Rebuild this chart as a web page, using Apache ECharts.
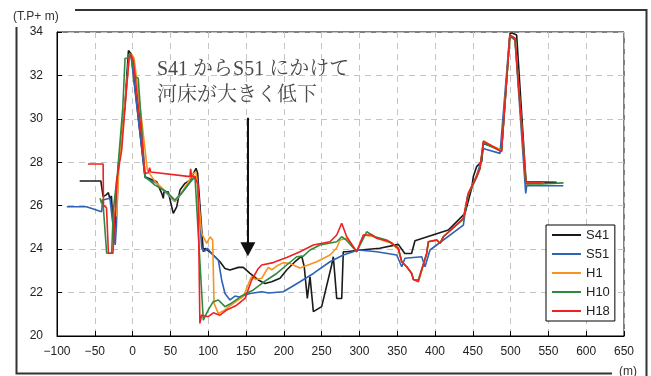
<!DOCTYPE html>
<html><head><meta charset="utf-8">
<script src="https://cdn.jsdelivr.net/npm/echarts@6/dist/echarts.min.js"></script>
<style>html,body{margin:0;padding:0;background:#fff}#c{width:651px;height:376px}</style>
</head><body><div id="c"></div>
<script>
var seriesNames = ['S41', 'S51', 'H1', 'H10', 'H18'];
var xTicks = [-100, 650, 50];
var yTicks = [20, 34, 2];
var noteText = 'S41 からS51 にかけて\n河床が大きく低下';
var arrowX = 152.5, arrowTop = 30.05, arrowEnd = 24.0;

var s41 = [[-70,27.14],[-42,27.14],[-39,26.42],[-35,26.5],[-32,26.6],[-30,26.3],[-28,26.45],[-24.5,24.3],[-19,27.8],[-10,30.7],[-5.5,33.15],[-2,33.0],[16.4,27.34],[31.9,27.1],[38.5,26.57],[40.6,26.34],[41.5,26.64],[47.2,26.64],[51.7,25.95],[53.8,25.65],[58.3,25.95],[62.7,26.72],[69.3,27.03],[75.9,27.18],[78.2,27.34],[83.9,27.72],[86,27.5],[93.5,23.88],[95.8,24.04],[104.6,23.8],[115.6,23.42],[122.2,23.11],[128.8,23.04],[139.8,23.16],[146.4,23.16],[155.3,22.88],[166.3,22.58],[175.1,22.42],[184,22.5],[195,22.66],[203.8,23.04],[214.8,23.42],[223.7,23.68],[227,23.2],[231.1,21.73],[234.7,22.73],[239.1,21.12],[250.1,21.35],[263.3,23.27],[265.5,23.65],[270,21.73],[276.6,21.73],[278.7,23.88],[283.2,23.88],[298,23.95],[327,24.04],[351.5,24.22],[360,23.8],[369,23.8],[373.5,24.39],[417.6,24.88],[439.7,25.65],[448.5,26.8],[450.7,27.34],[453,27.3],[455,27.8],[461.8,28.03],[464,28.87],[488,28.57],[499.2,33.94],[502,33.95],[508,33.86],[520.4,27.1],[561,27.08]];
var s51 = [[-87,25.95],[-61,25.95],[-41,25.72],[-39.5,26.26],[-30,26.34],[-28,26.26],[-23,24.19],[-21.5,25.0],[-19,27.6],[-10,30.6],[-5,32.95],[-2,32.9],[16.4,27.3],[31.9,27.03],[45.1,26.57],[56,26.19],[58,26.19],[65,26.57],[78.2,27.18],[82.5,27.34],[86,27.2],[91.4,24.04],[95,23.9],[99,24.04],[104.6,23.8],[113.4,23.5],[117.8,22.58],[122.2,21.96],[128.8,21.66],[135.4,21.84],[141,21.8],[155.3,21.96],[170.8,22.04],[180,21.98],[199.3,22.04],[210.4,22.27],[221.4,22.5],[239.1,22.88],[261.1,23.42],[278.7,23.73],[298.6,23.96],[322.9,23.88],[349.3,23.73],[351.5,23.65],[356,23.19],[360.3,23.58],[382.4,23.65],[386.8,23.19],[393.4,23.96],[437.5,25.11],[442.8,26.42],[448.5,26.88],[455.2,27.41],[459.5,27.87],[464,28.64],[467,28.6],[486,28.41],[498.3,33.63],[500.5,33.78],[505.8,33.63],[520,26.57],[521.3,26.92],[569.7,26.92]];
var h1 = [[-21,25.5],[-18,27.9],[-10,30.7],[-4,33.0],[-1,32.95],[1.9,32.8],[12,29.95],[19.5,27.64],[30,27.1],[45,26.6],[56,26.2],[65,26.6],[80.3,27.49],[84,27.55],[91.3,24.73],[98,24.27],[102.4,24.57],[105.9,24.42],[107.7,21.5],[113.4,21.04],[122,21.2],[133.2,21.5],[146.4,21.81],[155.3,22.58],[157.5,22.73],[163,22.6],[170.8,22.66],[179.5,23.16],[184,23.05],[190.6,23.22],[199.3,23.38],[208.2,23.34],[221.4,23.13],[243.5,23.42],[261,23.73],[270,24.05],[274.3,24.42],[283.2,24.5],[296.4,23.88],[305.3,24.65],[316,24.6],[336,24.34],[342.7,24.3],[351.5,23.96],[356,23.42],[362.6,23.19],[369.2,22.88],[371.4,22.6],[378,22.58],[389,23.8],[391.2,24.34],[402.3,24.42],[406.6,24.27],[411,24.57],[437.5,25.42],[444,26.57],[455,27.34],[459.5,27.72],[464,28.95],[488,28.55],[499,33.86],[505.8,33.71],[520.4,27.03],[545,27.03]];
var h10 = [[-43,26.34],[-41,26.1],[-39.5,26.3],[-34.3,23.81],[-27.7,23.81],[-25.5,25.8],[-20,27.5],[-13,30.5],[-10,32.79],[-7,32.8],[-3,33.02],[0,32.5],[3.2,31.94],[7.5,31.87],[16.4,27.34],[29.6,26.95],[45.1,26.64],[56,26.26],[65,26.6],[78.2,27.18],[82.5,27.34],[85,27.4],[93.5,20.73],[100.1,21.2],[106.7,21.58],[113.4,21.66],[122.2,21.35],[128.8,21.47],[146.4,21.89],[159.7,22.12],[177.4,22.58],[190.6,22.88],[203.8,23.27],[217,23.65],[225.8,23.68],[234.7,23.96],[247.9,24.19],[270,24.34],[276.6,24.57],[283.2,24.4],[296.4,23.88],[309.6,24.8],[320.6,24.57],[336,24.42],[351.5,24.04],[356,23.42],[362.6,23.19],[369.2,22.88],[371.4,22.6],[378,22.58],[389,23.8],[391.2,24.34],[402.3,24.42],[406.6,24.27],[411,24.57],[437.5,25.38],[444,26.5],[455,27.3],[459.5,27.7],[464,28.9],[488,28.5],[499,33.8],[505.8,33.68],[520.4,27.0],[540,27.0],[570,27.05]];
var h18 = [[-59,27.92],[-39,27.92],[-38.5,26.03],[-34.5,25.9],[-32,23.81],[-26,23.81],[-21,27.18],[-14.4,28.57],[-9,31.0],[-4.5,32.85],[-2,32.95],[1,32.7],[12,29.18],[16.4,27.49],[20.8,27.52],[22.5,27.75],[24,27.55],[75.9,27.34],[76.8,27.7],[78,27.34],[81.2,27.37],[86.5,27.0],[89,20.58],[91.3,20.96],[100.1,20.89],[106.7,21.07],[115.6,20.96],[124.5,21.2],[137.7,21.42],[148.7,21.73],[157.5,22.58],[166.3,23.11],[170.8,23.27],[186.1,23.38],[203.8,23.62],[221.4,23.88],[239.1,24.19],[261.1,24.34],[270,24.65],[276.6,25.19],[283.2,24.57],[296.4,23.88],[305.3,24.65],[316.3,24.65],[322.9,24.5],[340.5,24.34],[351.5,24.04],[356,23.42],[362.6,23.19],[369.2,22.88],[371.4,22.6],[378,22.5],[389,23.8],[391.2,24.34],[402.3,24.42],[406.6,24.27],[411,24.57],[437.5,25.42],[444,26.57],[455,27.34],[459.5,27.72],[464,28.98],[488,28.49],[499,33.86],[505.8,33.71],[520.4,27.03],[540,27.05]];

var colors = ['#1a1a1a', '#2f62b5', '#f7931e', '#2e8b3e', '#ee2222'];
var allData = [s41, s51, h1, h10, h18];
var FONT = '"Liberation Sans", "Noto Sans CJK JP", sans-serif';

var chart = echarts.init(document.getElementById('c'), null, {renderer: 'canvas'});
var series = allData.map(function (d, i) {
  return {
    name: seriesNames[i], type: 'line', data: d, symbol: 'none', showSymbol: false,
    animation: false, z: 2 + i,
    lineStyle: {color: colors[i], width: 1.6}, itemStyle: {color: colors[i]}
  };
});
series.push({
  name: 'arrow', type: 'line', data: [], symbol: 'none', animation: false, z: 10,
  markLine: {
    silent: true, animation: false, symbol: ['none', 'triangle'], symbolSize: [15, 14],
    label: {show: false},
    lineStyle: {color: '#111', width: 2, type: 'solid'},
    data: [[{coord: [arrowX, arrowTop]}, {coord: [arrowX, arrowEnd]}]]
  }
});

function fmt(v) { return String(v).replace('-', '\u2212'); }

chart.setOption({
  animation: false,
  backgroundColor: '#fff',
  grid: {left: 57, top: 32, right: 27, bottom: 40, show: true, borderColor: '#000', borderWidth: 1, backgroundColor: 'transparent'},
  xAxis: {
    type: 'value', min: xTicks[0], max: xTicks[1], interval: xTicks[2],
    axisLine: {show: true, onZero: false, lineStyle: {color: '#000', width: 1}},
    axisTick: {show: true, inside: true, length: 5, lineStyle: {color: '#000'}},
    axisLabel: {margin: 10, color: '#222', fontSize: 12, fontFamily: FONT, formatter: fmt},
    splitLine: {show: true, lineStyle: {color: '#c4c4c4', width: 1, type: [6, 5]}}
  },
  yAxis: {
    type: 'value', min: yTicks[0], max: yTicks[1], interval: yTicks[2],
    axisLine: {show: true, onZero: false, lineStyle: {color: '#000', width: 1}},
    axisTick: {show: true, inside: true, length: 5, lineStyle: {color: '#000'}},
    axisLabel: {margin: 14, color: '#222', fontSize: 12, fontFamily: FONT},
    splitLine: {show: true, lineStyle: {color: '#c4c4c4', width: 1, type: [6, 5]}}
  },
  legend: {
    data: seriesNames.map(function (n) { return {name: n, icon: 'rect'}; }),
    orient: 'vertical', left: 546, top: 225,
    padding: [3, 5, 3, 6], itemGap: 5, itemWidth: 29, itemHeight: 2,
    borderColor: '#000', borderWidth: 1, backgroundColor: '#fff',
    textStyle: {fontSize: 13, color: '#222', fontFamily: FONT, lineHeight: 14},
    selectedMode: false
  },
  graphic: [
    {type: 'polyline', silent: true, shape: {points: [[75, 10], [646.5, 10], [646.5, 376]]}, style: {stroke: '#333', lineWidth: 2, fill: null}},
    {type: 'polyline', silent: true, shape: {points: [[16.5, 27], [16.5, 373.5], [612, 373.5]]}, style: {stroke: '#333', lineWidth: 2, fill: null}},
    {type: 'text', silent: true, left: 13, top: 11, style: {text: '(T.P+ m)', font: '12px ' + FONT, fill: '#333'}},
    {type: 'text', silent: true, left: 619, top: 366, style: {text: '(m)', font: '12px ' + FONT, fill: '#333'}},
    {type: 'text', silent: true, left: 157, top: 57, z: 20, style: {text: noteText, font: '20px "Liberation Serif", "Noto Serif CJK JP", "Noto Sans CJK JP", serif', fill: '#4a4a4a', lineHeight: 26}}
  ],
  series: series
});
</script>
</body></html>
